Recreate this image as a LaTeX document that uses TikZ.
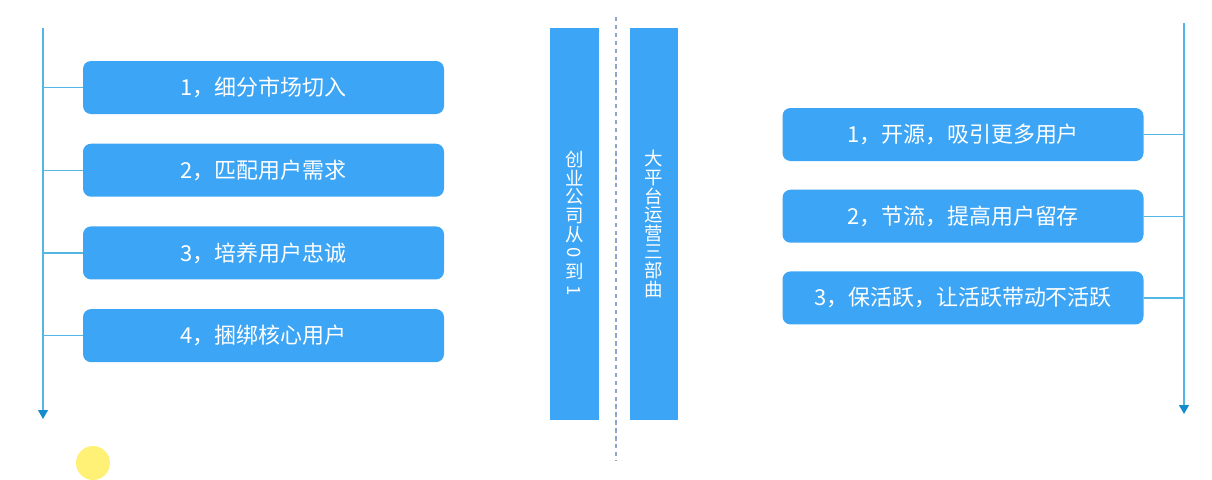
\documentclass[tikz,border=0pt]{standalone}
\usepackage{fontspec}
\usepackage{graphicx}
\usetikzlibrary{positioning,arrows.meta}
\newfontfamily\cjk{Noto Sans CJK SC}
\definecolor{boxblue}{RGB}{61,165,245}
\definecolor{lineblue}{RGB}{84,182,226}
\definecolor{tipblue}{RGB}{22,140,205}
\definecolor{dashgray}{RGB}{140,165,200}
\definecolor{dotyellow}{RGB}{255,241,118}

\begin{document}
\begin{tikzpicture}[>=Triangle,node distance=0.58cm,
    item/.style={fill=boxblue,rounded corners=0.16cm,minimum width=7.22cm,minimum height=1.06cm,inner sep=0pt,text=white,font=\cjk\fontsize{12.5pt}{14pt}\selectfont},
    bar/.style={fill=boxblue,minimum width=0.97cm,minimum height=7.84cm,inner sep=0pt,align=center,text=white,font=\cjk\fontsize{10.5pt}{10.6pt}\selectfont},
    conn/.style={draw=lineblue,line width=0.8pt},
    axis/.style={draw=lineblue,line width=0.8pt,-{Triangle[length=5pt,width=5.5pt,color=tipblue]}},
    divider/.style={draw=dashgray,line width=0.7pt,dash pattern=on 2.5pt off 2pt}]
        \useasboundingbox (0,0) rectangle (24.24,-9.58);
        % left column
        \node[item] (l1) at (5.27,-1.75) {1，细分市场切入};
        \node[item,below=of l1] (l2) {2，匹配用户需求};
        \node[item,below=of l2] (l3) {3，培养用户忠诚};
        \node[item,below=of l3] (l4) {4，捆绑核心用户};
        \coordinate (ltop) at (0.86,-0.56);
        \coordinate (lend) at (0.86,-8.38);
        \draw[axis] (ltop) -- (lend);
        \foreach \n in {l1,l2,l3,l4}
            \draw[conn] (\n.west) -- (\n.west -| ltop);
        % middle
        \node[bar] (b1) at (11.49,-4.48) {创\\业\\公\\司\\从\\\rotatebox[origin=c]{-90}{0}\\到\\\rotatebox[origin=c]{-90}{1}};
        \node[bar] (b2) at (13.08,-4.48) {大\\平\\台\\运\\营\\三\\部\\曲};
        \coordinate (dtop) at (12.32,-0.34);
        \coordinate (dend) at (12.32,-9.2);
        \draw[divider] (dtop) -- (dend);
        % right column
        \node[item] (r1) at (19.26,-2.69) {1，开源，吸引更多用户};
        \node[item,below=0.56cm of r1] (r2) {2，节流，提高用户留存};
        \node[item,below=0.56cm of r2] (r3) {3，保活跃，让活跃带动不活跃};
        \coordinate (rtop) at (23.68,-0.46);
        \coordinate (rend) at (23.68,-8.28);
        \draw[axis] (rtop) -- (rend);
        \foreach \n in {r1,r2,r3}
            \draw[conn] (\n.east) -- (\n.east -| rtop);
        \node[circle,fill=dotyellow,minimum size=0.68cm,inner sep=0pt] (dot) at (1.86,-9.26) {};
    \end{tikzpicture}
\end{document}
